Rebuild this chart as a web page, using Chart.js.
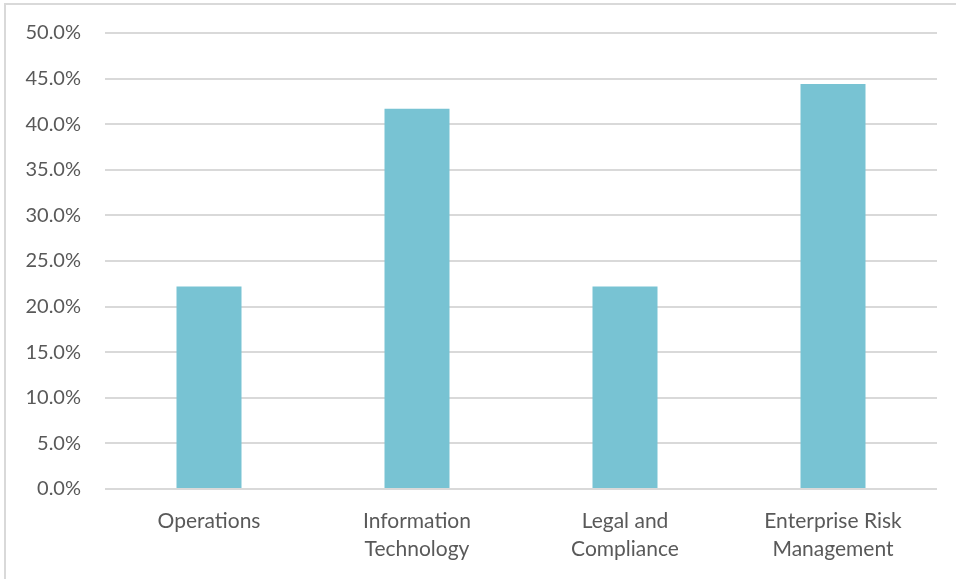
<!DOCTYPE html>
<html>
<head>
<meta charset="utf-8">
<script src="https://cdn.jsdelivr.net/npm/chart.js@4/dist/chart.umd.min.js"></script>
<style>
  html, body { margin: 0; padding: 0; background: #ffffff; }
  #wrap { position: relative; width: 956px; height: 579px; }
</style>
</head>
<body>
<div id="wrap"><canvas id="chart" width="956" height="579"></canvas></div>
<script>
// Share of responses by function
const categories = [
  ['Operations'],
  ['Information', 'Technology'],
  ['Legal and', 'Compliance'],
  ['Enterprise Risk', 'Management']
];
const shares = [22.2, 41.7, 22.2, 44.4];
const yTicks = [0, 5, 10, 15, 20, 25, 30, 35, 40, 45, 50];

const textColor = '#595959';
const gridColor = '#d9d9d9';
const barColor = '#78c3d3';
const fontFamily = 'Lato, "Open Sans", sans-serif';

// Thin frame along the top and left edges of the chart box
const framePlugin = {
  id: 'frame',
  beforeDraw(chart) {
    const ctx = chart.ctx;
    ctx.save();
    ctx.fillStyle = '#ffffff';
    ctx.fillRect(0, 0, chart.width, chart.height);
    ctx.strokeStyle = gridColor;
    ctx.lineWidth = 2;
    ctx.beginPath();
    ctx.moveTo(5, chart.height);
    ctx.lineTo(5, 4);
    ctx.lineTo(chart.width, 4);
    ctx.stroke();
    ctx.restore();
  }
};

new Chart(document.getElementById('chart'), {
  type: 'bar',
  data: {
    labels: categories,
    datasets: [{
      data: shares,
      backgroundColor: barColor,
      borderWidth: 0,
      barPercentage: 0.3125,
      categoryPercentage: 1
    }]
  },
  options: {
    responsive: false,
    animation: false,
    devicePixelRatio: 1,
    layout: { padding: { left: 0, right: 19, top: 33, bottom: 0 } },
    plugins: {
      legend: { display: false },
      tooltip: { enabled: false }
    },
    scales: {
      x: {
        grid: { display: false, drawTicks: false },
        border: { display: false },
        ticks: {
          color: textColor,
          font: { family: fontFamily, size: 21, lineHeight: 1.33 },
          padding: 18,
          maxRotation: 0,
          autoSkip: false
        },
        afterFit(scale) { scale.height = 90; }
      },
      y: {
        min: 0,
        max: 50,
        afterBuildTicks(scale) {
          scale.ticks = yTicks.map(v => ({ value: v }));
        },
        grid: { color: gridColor, lineWidth: 2, drawTicks: false },
        border: { display: false },
        ticks: {
          color: textColor,
          font: { family: fontFamily, size: 20 },
          padding: 24,
          callback: v => v.toFixed(1) + '%'
        },
        afterFit(scale) {
          scale.width = 105;
          // the outer padding already leaves room for the end labels
          scale.paddingTop = 0;
          scale.paddingBottom = 0;
        }
      }
    }
  },
  plugins: [framePlugin]
});
</script>
</body>
</html>
